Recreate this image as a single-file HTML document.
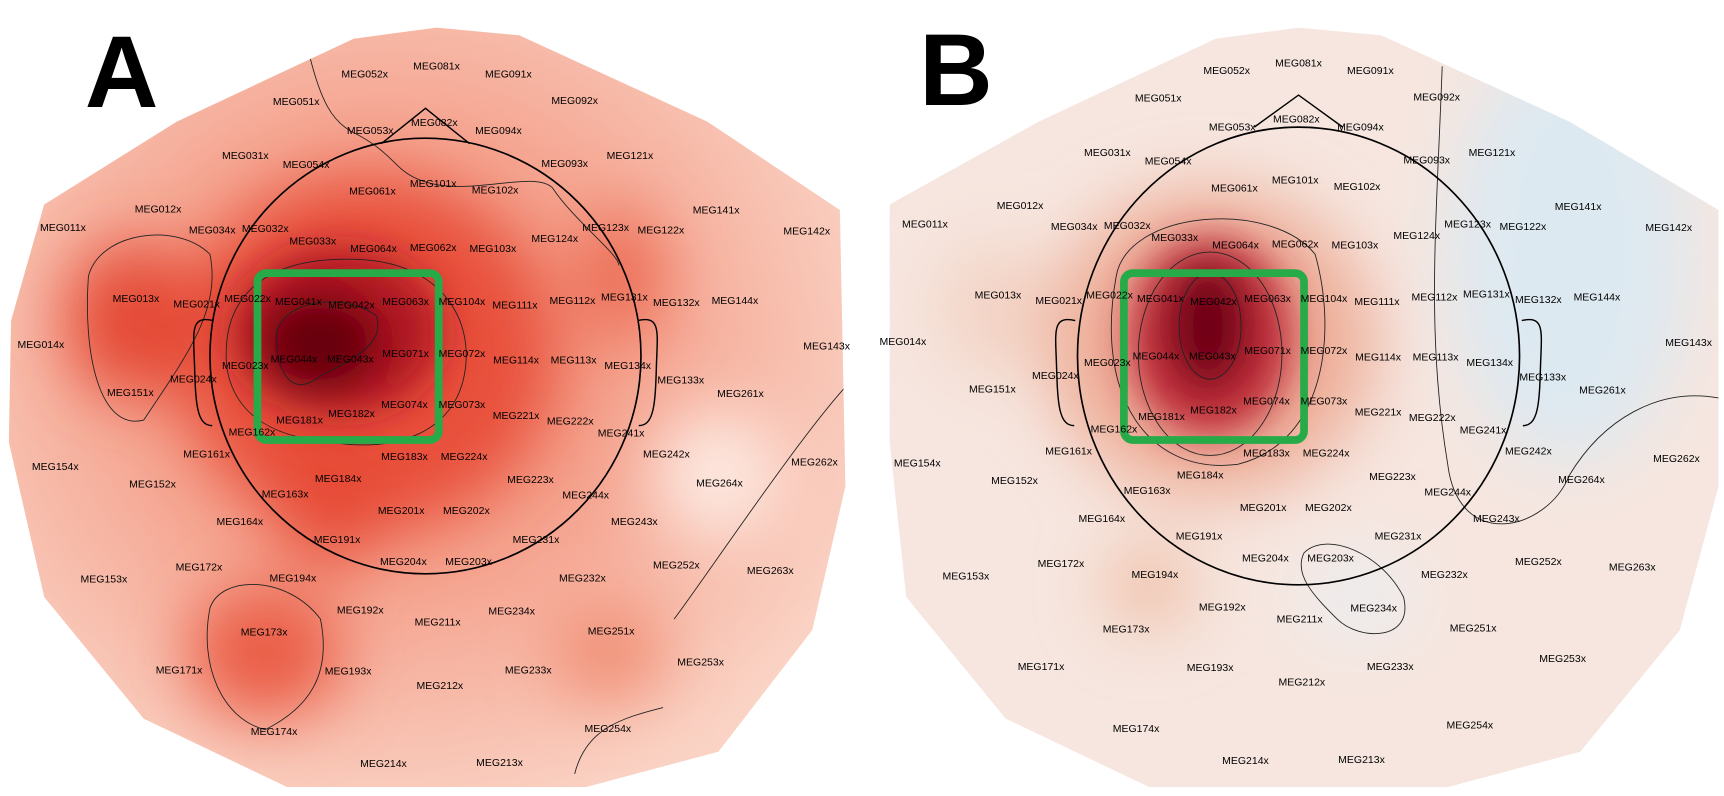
<!DOCTYPE html>
<html><head><meta charset="utf-8"><style>
html,body{margin:0;padding:0;background:#fff;}
svg{display:block;}
text.l{font-family:"Liberation Sans",sans-serif;font-size:9.5px;fill:#000;text-anchor:middle;}
text.big{font-family:"Liberation Sans",sans-serif;font-size:92px;font-weight:bold;fill:#000;text-anchor:middle;}
</style></head><body>
<svg width="1724" height="796" viewBox="0 0 1560 720" preserveAspectRatio="none" xmlns="http://www.w3.org/2000/svg">
<defs>
<filter id="b1" x="-50%" y="-50%" width="200%" height="200%"><feGaussianBlur stdDeviation="30"/></filter>
<filter id="b2" x="-50%" y="-50%" width="200%" height="200%"><feGaussianBlur stdDeviation="18"/></filter>
<clipPath id="ca"><polygon points="395,25 470,32 640,110 760,190 765,440 735,570 650,680 530,712 260,712 130,650 40,540 8,400 10,290 40,185 160,110 320,35"/></clipPath>
<clipPath id="cb"><polygon points="1175,25 1250,32 1420,110 1555,190 1555,440 1520,570 1430,680 1310,712 1040,712 910,650 820,540 805,400 805,290 805,185 940,110 1100,35"/></clipPath>
<radialGradient id="ga" cx="0.45" cy="0.45" r="0.6"><stop offset="0" stop-color="#f07a60"/><stop offset="1" stop-color="#fad3c5"/></radialGradient>
</defs>
<rect width="1560" height="720" fill="#fff"/>
<!-- Panel A -->
<g clip-path="url(#ca)">
<rect x="0" y="0" width="780" height="720" fill="url(#ga)"/>
<g filter="url(#b1)">
<ellipse cx="330" cy="320" rx="170" ry="160" fill="#e8503a"/>
<ellipse cx="120" cy="290" rx="60" ry="70" fill="#e44a35"/>
<ellipse cx="240" cy="590" rx="70" ry="60" fill="#ea5c45"/>
<ellipse cx="560" cy="250" rx="40" ry="60" fill="#ec6a52"/>
<ellipse cx="300" cy="450" rx="50" ry="60" fill="#e64a35"/>
<ellipse cx="650" cy="430" rx="60" ry="60" fill="#fde8e0"/>
<ellipse cx="550" cy="590" rx="50" ry="40" fill="#f08a70"/>
</g>
<g filter="url(#b2)">
<ellipse cx="305" cy="300" rx="95" ry="75" fill="#b01820"/>
<ellipse cx="290" cy="310" rx="55" ry="45" fill="#680010"/>
</g>
<g fill="none" stroke="#222" stroke-width="0.8">
<path d="M250,300 C260,270 310,265 340,285 C350,310 320,325 290,340 C265,360 250,340 250,300Z"/>
<path d="M205,330 C200,260 250,230 330,235 C400,240 430,290 420,340 C410,390 360,410 300,400 C240,395 210,370 205,330Z"/>
<path d="M80,250 C90,210 160,200 190,230 C200,280 170,320 130,380 C90,390 75,320 80,250Z"/>
<path d="M190,550 C200,520 260,520 290,560 C300,610 280,640 240,660 C200,650 180,600 190,550Z"/>
<path d="M280,50 C290,90 300,110 320,120 C340,130 350,140 360,150 C400,190 480,150 500,170 C520,200 560,230 560,240"/>
<path d="M610,560 C640,520 720,400 765,350"/>
<path d="M520,700 C530,660 560,650 600,640"/>
</g>
</g>
<ellipse cx="385" cy="322" rx="195" ry="197" fill="none" stroke="#000" stroke-width="1.5"/>
<polyline points="345,130 385,98 425,130" fill="none" stroke="#000" stroke-width="1.3"/>
<path d="M193,290 C172,285 175,300 176,330 C177,365 178,385 192,385" fill="none" stroke="#000" stroke-width="1.3"/>
<path d="M577,290 C598,285 595,300 594,330 C593,365 592,385 578,385" fill="none" stroke="#000" stroke-width="1.3"/>
<rect x="233" y="247" width="164" height="151" rx="8" fill="none" stroke="#27ab48" stroke-width="7"/>
<text class="big" x="110" y="97">A</text>

<!-- Panel B -->
<g clip-path="url(#cb)">
<rect x="780" y="0" width="780" height="720" fill="#f6e6df"/>
<g filter="url(#b1)">
<ellipse cx="1420" cy="230" rx="110" ry="190" fill="#dde9f1"/>
<ellipse cx="1230" cy="540" rx="50" ry="35" fill="#eaeef2"/>
<ellipse cx="1095" cy="310" rx="150" ry="140" fill="#eeae98"/>
<ellipse cx="1040" cy="530" rx="40" ry="40" fill="#f0c0a8"/>
<ellipse cx="900" cy="280" rx="50" ry="60" fill="#f3d3c5"/>
</g>
<g filter="url(#b2)">
<ellipse cx="1095" cy="305" rx="75" ry="90" fill="#c02a38"/>
<ellipse cx="1093" cy="295" rx="38" ry="58" fill="#6e0016"/>
</g>
<g fill="none" stroke="#222" stroke-width="0.8">
<ellipse cx="1095" cy="295" rx="28" ry="48"/>
<ellipse cx="1095" cy="320" rx="65" ry="92"/>
<path d="M1010,250 C1020,190 1150,180 1190,230 C1210,300 1200,400 1120,420 C1040,430 990,360 1010,250Z"/>
<path d="M1180,500 C1200,480 1250,500 1270,540 C1280,580 1230,580 1210,560 C1190,540 1170,520 1180,500Z"/>
<path d="M1305,60 C1300,200 1290,300 1310,420 C1320,500 1400,480 1420,430 C1450,380 1500,350 1555,360"/>
</g>
</g>
<ellipse cx="1175" cy="322" rx="200" ry="207" fill="none" stroke="#000" stroke-width="1.5"/>
<polyline points="1135,115 1175,86 1215,115" fill="none" stroke="#000" stroke-width="1.3"/>
<path d="M973,290 C952,285 955,300 956,330 C957,365 958,385 972,385" fill="none" stroke="#000" stroke-width="1.3"/>
<path d="M1377,290 C1398,285 1395,300 1394,330 C1393,365 1392,385 1378,385" fill="none" stroke="#000" stroke-width="1.3"/>
<rect x="1017" y="247" width="163" height="151" rx="8" fill="none" stroke="#27ab48" stroke-width="7"/>
<text class="big" x="865" y="95">B</text>

<!-- Labels A -->
<g>
<text class="l" x="330" y="70">MEG052x</text><text class="l" x="395" y="63">MEG081x</text><text class="l" x="460" y="70">MEG091x</text>
<text class="l" x="268" y="95">MEG051x</text><text class="l" x="520" y="94">MEG092x</text>
<text class="l" x="335" y="121">MEG053x</text><text class="l" x="393" y="114">MEG082x</text><text class="l" x="451" y="121">MEG094x</text>
<text class="l" x="222" y="144">MEG031x</text><text class="l" x="277" y="152">MEG054x</text><text class="l" x="511" y="151">MEG093x</text><text class="l" x="570" y="144">MEG121x</text>
<text class="l" x="392" y="169">MEG101x</text><text class="l" x="337" y="176">MEG061x</text><text class="l" x="448" y="175">MEG102x</text>
<text class="l" x="143" y="192">MEG012x</text><text class="l" x="648" y="193">MEG141x</text>
<text class="l" x="57" y="209">MEG011x</text><text class="l" x="192" y="211">MEG034x</text><text class="l" x="240" y="210">MEG032x</text><text class="l" x="548" y="209">MEG123x</text><text class="l" x="598" y="211">MEG122x</text><text class="l" x="730" y="212">MEG142x</text>
<text class="l" x="283" y="221">MEG033x</text><text class="l" x="502" y="219">MEG124x</text><text class="l" x="338" y="228">MEG064x</text><text class="l" x="392" y="227">MEG062x</text><text class="l" x="446" y="228">MEG103x</text>
<text class="l" x="123" y="273">MEG013x</text><text class="l" x="178" y="278">MEG021x</text><text class="l" x="224" y="273">MEG022x</text><text class="l" x="270" y="276">MEG041x</text><text class="l" x="318" y="279">MEG042x</text><text class="l" x="367" y="276">MEG063x</text><text class="l" x="418" y="276">MEG104x</text><text class="l" x="466" y="279">MEG111x</text><text class="l" x="518" y="275">MEG112x</text><text class="l" x="565" y="272">MEG131x</text><text class="l" x="612" y="277">MEG132x</text><text class="l" x="665" y="275">MEG144x</text>
<text class="l" x="37" y="315">MEG014x</text><text class="l" x="748" y="316">MEG143x</text>
<text class="l" x="222" y="334">MEG023x</text><text class="l" x="266" y="328">MEG044x</text><text class="l" x="317" y="328">MEG043x</text><text class="l" x="367" y="323">MEG071x</text><text class="l" x="418" y="323">MEG072x</text><text class="l" x="467" y="329">MEG114x</text><text class="l" x="519" y="329">MEG113x</text><text class="l" x="568" y="334">MEG134x</text>
<text class="l" x="175" y="346">MEG024x</text><text class="l" x="616" y="347">MEG133x</text><text class="l" x="118" y="358">MEG151x</text><text class="l" x="670" y="359">MEG261x</text>
<text class="l" x="271" y="383">MEG181x</text><text class="l" x="318" y="377">MEG182x</text><text class="l" x="366" y="369">MEG074x</text><text class="l" x="418" y="369">MEG073x</text><text class="l" x="467" y="379">MEG221x</text><text class="l" x="516" y="384">MEG222x</text>
<text class="l" x="228" y="394">MEG162x</text><text class="l" x="562" y="395">MEG241x</text>
<text class="l" x="187" y="414">MEG161x</text><text class="l" x="366" y="416">MEG183x</text><text class="l" x="420" y="416">MEG224x</text><text class="l" x="603" y="414">MEG242x</text>
<text class="l" x="50" y="425">MEG154x</text><text class="l" x="737" y="421">MEG262x</text>
<text class="l" x="138" y="441">MEG152x</text><text class="l" x="306" y="436">MEG184x</text><text class="l" x="480" y="437">MEG223x</text><text class="l" x="651" y="440">MEG264x</text>
<text class="l" x="258" y="450">MEG163x</text><text class="l" x="530" y="451">MEG244x</text>
<text class="l" x="363" y="465">MEG201x</text><text class="l" x="422" y="465">MEG202x</text>
<text class="l" x="217" y="475">MEG164x</text><text class="l" x="574" y="475">MEG243x</text>
<text class="l" x="305" y="491">MEG191x</text><text class="l" x="485" y="491">MEG231x</text>
<text class="l" x="180" y="516">MEG172x</text><text class="l" x="365" y="511">MEG204x</text><text class="l" x="424" y="511">MEG203x</text><text class="l" x="612" y="514">MEG252x</text><text class="l" x="697" y="519">MEG263x</text>
<text class="l" x="94" y="527">MEG153x</text><text class="l" x="265" y="526">MEG194x</text><text class="l" x="527" y="526">MEG232x</text>
<text class="l" x="326" y="555">MEG192x</text><text class="l" x="463" y="556">MEG234x</text><text class="l" x="396" y="566">MEG211x</text>
<text class="l" x="239" y="575">MEG173x</text><text class="l" x="553" y="574">MEG251x</text>
<text class="l" x="162" y="609">MEG171x</text><text class="l" x="315" y="610">MEG193x</text><text class="l" x="478" y="609">MEG233x</text><text class="l" x="634" y="602">MEG253x</text>
<text class="l" x="398" y="623">MEG212x</text><text class="l" x="248" y="665">MEG174x</text><text class="l" x="550" y="662">MEG254x</text>
<text class="l" x="347" y="694">MEG214x</text><text class="l" x="452" y="693">MEG213x</text>
</g>
<!-- Labels B -->
<g transform="translate(780,-3)">
<text class="l" x="330" y="70">MEG052x</text><text class="l" x="395" y="63">MEG081x</text><text class="l" x="460" y="70">MEG091x</text>
<text class="l" x="268" y="95">MEG051x</text><text class="l" x="520" y="94">MEG092x</text>
<text class="l" x="335" y="121">MEG053x</text><text class="l" x="393" y="114">MEG082x</text><text class="l" x="451" y="121">MEG094x</text>
<text class="l" x="222" y="144">MEG031x</text><text class="l" x="277" y="152">MEG054x</text><text class="l" x="511" y="151">MEG093x</text><text class="l" x="570" y="144">MEG121x</text>
<text class="l" x="392" y="169">MEG101x</text><text class="l" x="337" y="176">MEG061x</text><text class="l" x="448" y="175">MEG102x</text>
<text class="l" x="143" y="192">MEG012x</text><text class="l" x="648" y="193">MEG141x</text>
<text class="l" x="57" y="209">MEG011x</text><text class="l" x="192" y="211">MEG034x</text><text class="l" x="240" y="210">MEG032x</text><text class="l" x="548" y="209">MEG123x</text><text class="l" x="598" y="211">MEG122x</text><text class="l" x="730" y="212">MEG142x</text>
<text class="l" x="283" y="221">MEG033x</text><text class="l" x="502" y="219">MEG124x</text><text class="l" x="338" y="228">MEG064x</text><text class="l" x="392" y="227">MEG062x</text><text class="l" x="446" y="228">MEG103x</text>
<text class="l" x="123" y="273">MEG013x</text><text class="l" x="178" y="278">MEG021x</text><text class="l" x="224" y="273">MEG022x</text><text class="l" x="270" y="276">MEG041x</text><text class="l" x="318" y="279">MEG042x</text><text class="l" x="367" y="276">MEG063x</text><text class="l" x="418" y="276">MEG104x</text><text class="l" x="466" y="279">MEG111x</text><text class="l" x="518" y="275">MEG112x</text><text class="l" x="565" y="272">MEG131x</text><text class="l" x="612" y="277">MEG132x</text><text class="l" x="665" y="275">MEG144x</text>
<text class="l" x="37" y="315">MEG014x</text><text class="l" x="748" y="316">MEG143x</text>
<text class="l" x="222" y="334">MEG023x</text><text class="l" x="266" y="328">MEG044x</text><text class="l" x="317" y="328">MEG043x</text><text class="l" x="367" y="323">MEG071x</text><text class="l" x="418" y="323">MEG072x</text><text class="l" x="467" y="329">MEG114x</text><text class="l" x="519" y="329">MEG113x</text><text class="l" x="568" y="334">MEG134x</text>
<text class="l" x="175" y="346">MEG024x</text><text class="l" x="616" y="347">MEG133x</text><text class="l" x="118" y="358">MEG151x</text><text class="l" x="670" y="359">MEG261x</text>
<text class="l" x="271" y="383">MEG181x</text><text class="l" x="318" y="377">MEG182x</text><text class="l" x="366" y="369">MEG074x</text><text class="l" x="418" y="369">MEG073x</text><text class="l" x="467" y="379">MEG221x</text><text class="l" x="516" y="384">MEG222x</text>
<text class="l" x="228" y="394">MEG162x</text><text class="l" x="562" y="395">MEG241x</text>
<text class="l" x="187" y="414">MEG161x</text><text class="l" x="366" y="416">MEG183x</text><text class="l" x="420" y="416">MEG224x</text><text class="l" x="603" y="414">MEG242x</text>
<text class="l" x="50" y="425">MEG154x</text><text class="l" x="737" y="421">MEG262x</text>
<text class="l" x="138" y="441">MEG152x</text><text class="l" x="306" y="436">MEG184x</text><text class="l" x="480" y="437">MEG223x</text><text class="l" x="651" y="440">MEG264x</text>
<text class="l" x="258" y="450">MEG163x</text><text class="l" x="530" y="451">MEG244x</text>
<text class="l" x="363" y="465">MEG201x</text><text class="l" x="422" y="465">MEG202x</text>
<text class="l" x="217" y="475">MEG164x</text><text class="l" x="574" y="475">MEG243x</text>
<text class="l" x="305" y="491">MEG191x</text><text class="l" x="485" y="491">MEG231x</text>
<text class="l" x="180" y="516">MEG172x</text><text class="l" x="365" y="511">MEG204x</text><text class="l" x="424" y="511">MEG203x</text><text class="l" x="612" y="514">MEG252x</text><text class="l" x="697" y="519">MEG263x</text>
<text class="l" x="94" y="527">MEG153x</text><text class="l" x="265" y="526">MEG194x</text><text class="l" x="527" y="526">MEG232x</text>
<text class="l" x="326" y="555">MEG192x</text><text class="l" x="463" y="556">MEG234x</text><text class="l" x="396" y="566">MEG211x</text>
<text class="l" x="239" y="575">MEG173x</text><text class="l" x="553" y="574">MEG251x</text>
<text class="l" x="162" y="609">MEG171x</text><text class="l" x="315" y="610">MEG193x</text><text class="l" x="478" y="609">MEG233x</text><text class="l" x="634" y="602">MEG253x</text>
<text class="l" x="398" y="623">MEG212x</text><text class="l" x="248" y="665">MEG174x</text><text class="l" x="550" y="662">MEG254x</text>
<text class="l" x="347" y="694">MEG214x</text><text class="l" x="452" y="693">MEG213x</text>
</g>
</svg>
</body></html>
